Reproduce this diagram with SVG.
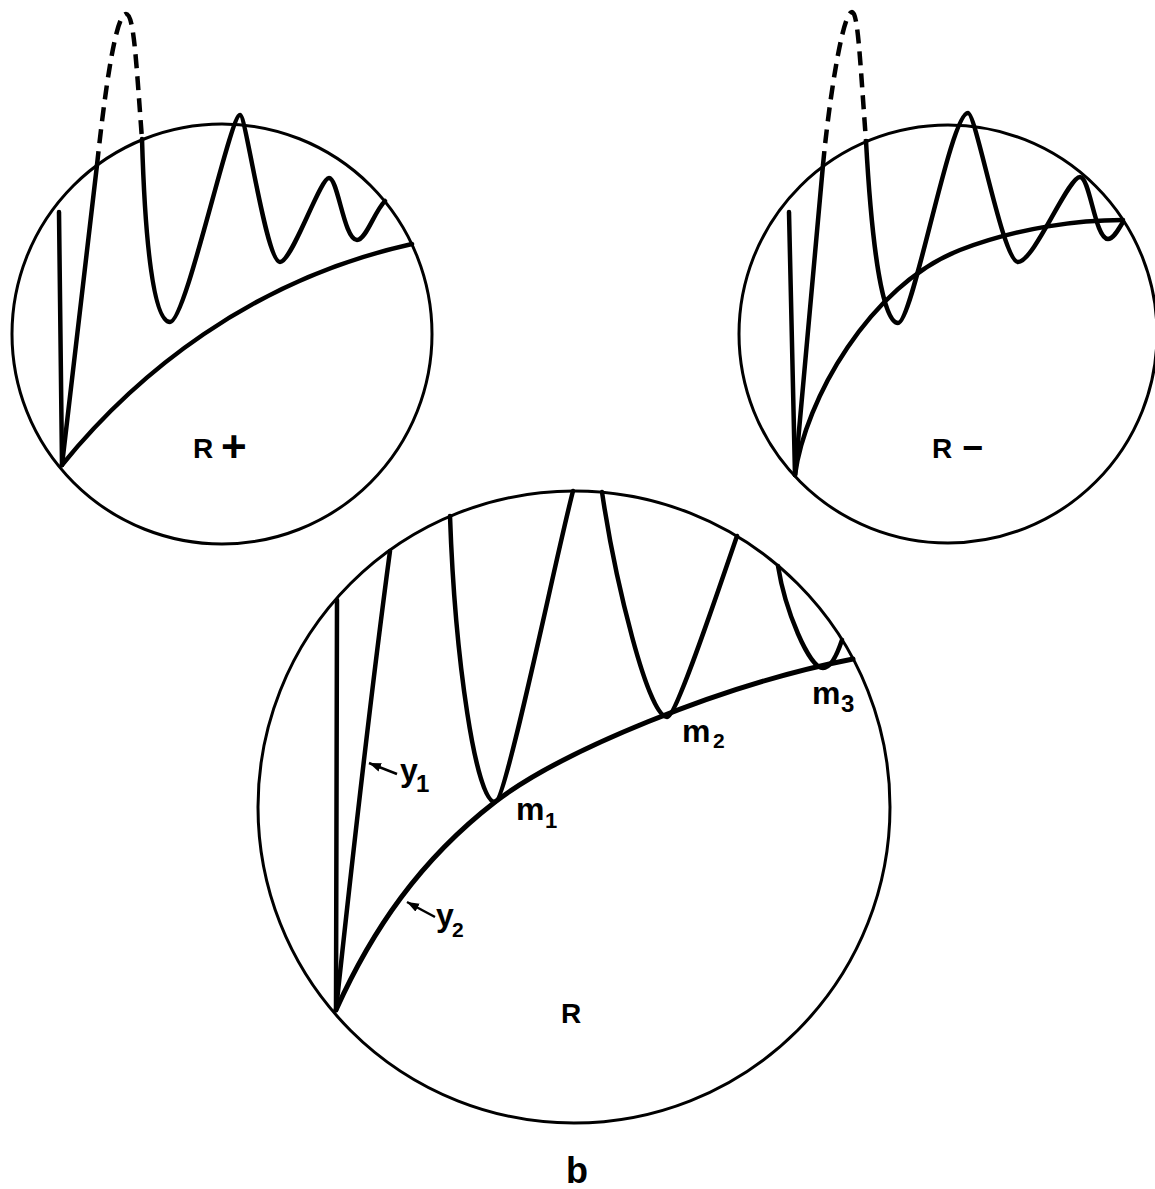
<svg xmlns="http://www.w3.org/2000/svg" width="1155" height="1189" viewBox="0 0 1155 1189">
<style>
.circ{fill:none;stroke:#000;stroke-width:3}
.crv{fill:none;stroke:#000;stroke-width:4.5;stroke-linecap:round;stroke-linejoin:round}
.dash{fill:none;stroke:#000;stroke-width:4.5;stroke-dasharray:14 8}
.lbl{font-family:"Liberation Sans",Arial,sans-serif;font-weight:bold;fill:#000}
.arr{fill:none;stroke:#000;stroke-width:2.5}
</style>
<defs>
<marker id="ah" markerUnits="userSpaceOnUse" markerWidth="14" markerHeight="10" refX="12" refY="4.5" orient="auto">
<path d="M0,0 L12,4.5 L0,9 z" fill="#000"/>
</marker>
</defs>
<rect width="1155" height="1189" fill="#fff"/>

<g id="panel-r-plus">
<circle class="circ" cx="222" cy="334" r="210"/>
<path class="crv" d="M59,212 L62,465"/>
<path class="crv" d="M62,465 L97,165"/>
<path class="dash" d="M97,165 C104,100 115,14 126,14 C134,14 136,60 142,139"/>
<path class="crv" d="M142,139 C145,240 153,322 170,322 C186,322 230,115 240,115 C246,115 266,262 280,262 C292,262 320,178 329,178 C338,178 344,240 357,240 C366,240 374,212 385,201"/>
<path class="crv" d="M62,465 C135,375 250,280 412,244"/>
<text class="lbl" x="193" y="458" font-size="28">R<tspan x="221" y="462" font-size="44">+</tspan></text>
</g>

<g id="panel-r-minus">
<circle class="circ" cx="948" cy="334" r="209"/>
<path class="crv" d="M789,212 L795,475"/>
<path class="crv" d="M795,475 L823,165"/>
<path class="dash" d="M823,165 C828,110 842,12 852,12 C858,12 860,60 866,141"/>
<path class="crv" d="M866,141 C872,250 883,323 898,323 C913,323 950,113 968,113 C976,113 1003,262 1018,262 C1034,262 1068,177 1080,177 C1090,177 1095,239 1108,239 C1114,239 1119,228 1123,222"/>
<path class="crv" d="M795,475 C805,400 870,285 960,250 C1020,227 1080,220 1123,220"/>
<text class="lbl" x="932" y="458" font-size="28">R<tspan x="962" y="460" font-size="36">−</tspan></text>
</g>

<g id="panel-r">
<circle class="circ" cx="574" cy="807" r="316"/>
<path class="crv" d="M337,600 L336,1010"/>
<path class="crv" d="M336,1010 C350,880 370,700 390,551"/>
<path class="crv" d="M450,516 C455,660 476,802 495,802 C506,802 555,560 573,491"/>
<path class="crv" d="M602,492 C615,580 648,717 667,717 C676,717 715,600 737,536"/>
<path class="crv" d="M778,566 C785,610 809,668 823,668 C831,668 837,655 842,640"/>
<path class="crv" d="M336,1010 C372,930 420,860 495,802 C560,752 720,685 853,659" style="stroke-width:5"/>
<text class="lbl" x="400" y="781" font-size="32">y<tspan x="416" y="792" font-size="24">1</tspan></text>
<text class="lbl" x="436" y="926" font-size="32">y<tspan x="452" y="937" font-size="21">2</tspan></text>
<text class="lbl" x="516" y="820" font-size="32">m<tspan x="545" y="828" font-size="22">1</tspan></text>
<text class="lbl" x="682" y="742" font-size="32">m<tspan x="713" y="748" font-size="21">2</tspan></text>
<text class="lbl" x="812" y="704" font-size="32">m<tspan x="841" y="712" font-size="24">3</tspan></text>
<text class="lbl" x="561" y="1023" font-size="28">R</text>
</g>

<g id="connectors">
<path class="arr" d="M397,774 L369,763" marker-end="url(#ah)"/>
<path class="arr" d="M435,917 L407,902" marker-end="url(#ah)"/>
</g>

<text id="caption" class="lbl" x="566" y="1183" font-size="36">b</text>
</svg>
